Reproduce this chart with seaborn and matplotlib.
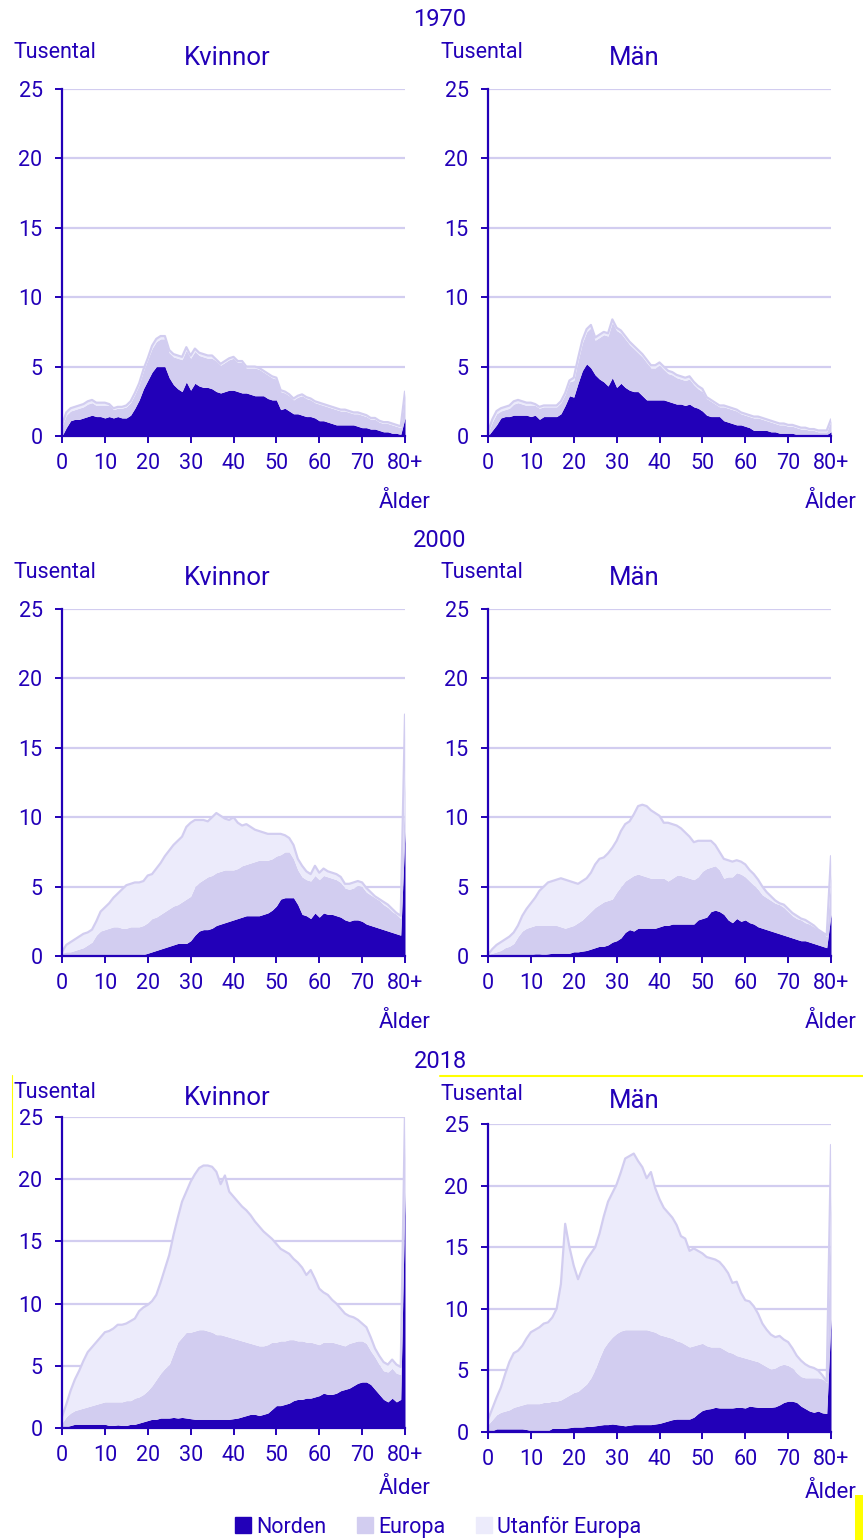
import matplotlib
matplotlib.use("Agg")
import matplotlib.pyplot as plt
from matplotlib.lines import Line2D
from matplotlib.patches import Rectangle
import seaborn as sns

sns.set_theme(style="white")
plt.rcParams['font.family'] = ['Roboto', 'DejaVu Sans']

BLUE = '#2200b8'
EUR = '#d2cdf0'
UTF = '#ecebfb'
W, H = 863, 1540

ages = list(range(81))
xticks = [0, 10, 20, 30, 40, 50, 60, 70, 80]
xtick_labels = ['0', '10', '20', '30', '40', '50', '60', '70', '80+']
yticks = [0, 5, 10, 15, 20, 25]
years = ['1970', '2000', '2018']
sexes = ['Kvinnor', 'Män']
groups = ['Norden', 'Europa', 'Utanför Europa']

# thousands per one-year age group, 80 = 80+
norden_1970_k = [0, 0.6, 1.1, 1.2, 1.2, 1.3, 1.4, 1.5, 1.4, 1.4,
                 1.3, 1.4, 1.3, 1.4, 1.3, 1.3, 1.5, 2.0, 2.6, 3.4,
                 4.0, 4.6, 5.0, 5.0, 5.0, 4.2, 3.7, 3.4, 3.2, 3.9,
                 3.3, 3.8, 3.6, 3.5, 3.5, 3.4, 3.2, 3.1, 3.2, 3.3,
                 3.3, 3.2, 3.1, 3.1, 3.0, 2.9, 2.9, 2.9, 2.7, 2.6,
                 2.6, 1.9, 2.0, 1.8, 1.6, 1.6, 1.5, 1.4, 1.4, 1.3,
                 1.1, 1.1, 1.0, 0.9, 0.8, 0.8, 0.8, 0.8, 0.8, 0.7,
                 0.6, 0.6, 0.5, 0.5, 0.4, 0.3, 0.3, 0.2, 0.2, 0.1,
                 1.3]
europa_1970_k = [0.7, 0.9, 0.7, 0.7, 0.8, 0.8, 0.9, 0.9, 0.8, 0.8,
                 0.9, 0.8, 0.6, 0.6, 0.7, 0.8, 0.9, 1.0, 1.1, 1.3,
                 1.5, 1.7, 1.8, 2.0, 2.0, 1.8, 2.0, 2.2, 2.3, 2.3,
                 2.3, 2.3, 2.2, 2.2, 2.1, 2.2, 2.2, 2.0, 2.1, 2.2,
                 2.3, 2.1, 2.2, 1.8, 1.9, 2.0, 1.9, 1.7, 1.7, 1.6,
                 1.5, 1.3, 1.1, 1.1, 1.0, 1.2, 1.4, 1.3, 1.2, 1.1,
                 1.2, 1.1, 1.1, 1.1, 1.1, 1.0, 1.0, 0.9, 0.8, 0.9,
                 0.9, 0.8, 0.7, 0.7, 0.6, 0.6, 0.6, 0.6, 0.5, 0.5,
                 1.8]
utanfor_1970_k = [0.1, 0.2, 0.2, 0.2, 0.2, 0.2, 0.2, 0.2, 0.2, 0.2,
                  0.2, 0.1, 0.1, 0.1, 0.1, 0.1, 0.1, 0.1, 0.1, 0.1,
                  0.1, 0.2, 0.2, 0.2, 0.2, 0.2, 0.2, 0.2, 0.2, 0.2,
                  0.2, 0.2, 0.2, 0.2, 0.2, 0.2, 0.1, 0.1, 0.1, 0.1,
                  0.1, 0.1, 0.1, 0.1, 0.1, 0.1, 0.1, 0.1, 0.1, 0.1,
                  0.1, 0.1, 0.1, 0.1, 0.1, 0.1, 0.1, 0.1, 0.1, 0.1,
                  0.1, 0.1, 0.1, 0.1, 0.1, 0.1, 0.1, 0.1, 0.1, 0.1,
                  0.1, 0.1, 0.1, 0.1, 0.1, 0.1, 0.1, 0.1, 0.1, 0.1,
                  0.1]

norden_1970_m = [0, 0.4, 0.8, 1.3, 1.4, 1.4, 1.5, 1.5, 1.5, 1.5,
                 1.4, 1.5, 1.2, 1.4, 1.4, 1.4, 1.4, 1.6, 2.2, 2.9,
                 2.8, 3.8, 4.7, 5.2, 4.9, 4.4, 4.1, 3.9, 3.6, 4.2,
                 3.5, 3.8, 3.5, 3.3, 3.2, 3.2, 2.9, 2.6, 2.6, 2.6,
                 2.6, 2.6, 2.5, 2.4, 2.3, 2.3, 2.2, 2.3, 2.1, 2.0,
                 1.8, 1.5, 1.4, 1.4, 1.4, 1.1, 1.0, 0.9, 0.8, 0.8,
                 0.7, 0.6, 0.4, 0.4, 0.4, 0.4, 0.3, 0.3, 0.2, 0.2,
                 0.2, 0.2, 0.1, 0.1, 0.1, 0.1, 0.1, 0.1, 0.1, 0.1,
                 0.3]
europa_1970_m = [0.2, 0.6, 0.8, 0.5, 0.5, 0.6, 0.8, 0.9, 0.8, 0.7,
                 0.8, 0.7, 0.8, 0.7, 0.7, 0.7, 0.7, 0.8, 0.8, 1.0,
                 1.2, 1.6, 2.0, 2.3, 2.9, 2.5, 3.0, 3.4, 3.6, 4.0,
                 4.1, 3.6, 3.5, 3.3, 3.1, 2.8, 2.8, 2.7, 2.3, 2.3,
                 2.5, 2.2, 2.0, 2.0, 1.9, 1.8, 1.8, 1.8, 1.6, 1.4,
                 1.4, 1.2, 1.1, 0.9, 0.7, 1.0, 1.0, 1.0, 1.0, 0.8,
                 0.8, 0.8, 0.9, 0.9, 0.8, 0.7, 0.7, 0.6, 0.6, 0.6,
                 0.5, 0.5, 0.5, 0.4, 0.4, 0.3, 0.3, 0.2, 0.2, 0.2,
                 0.8]
utanfor_1970_m = [0.1, 0.2, 0.2, 0.2, 0.2, 0.2, 0.2, 0.2, 0.2, 0.2,
                  0.2, 0.1, 0.1, 0.1, 0.1, 0.1, 0.1, 0.1, 0.1, 0.1,
                  0.2, 0.2, 0.2, 0.2, 0.2, 0.2, 0.2, 0.2, 0.2, 0.2,
                  0.2, 0.2, 0.2, 0.2, 0.2, 0.2, 0.2, 0.2, 0.2, 0.2,
                  0.2, 0.2, 0.2, 0.2, 0.2, 0.2, 0.2, 0.2, 0.2, 0.2,
                  0.2, 0.1, 0.1, 0.1, 0.1, 0.1, 0.1, 0.1, 0.1, 0.1,
                  0.1, 0.1, 0.1, 0.1, 0.1, 0.1, 0.1, 0.1, 0.1, 0.1,
                  0.1, 0.1, 0.1, 0.1, 0.1, 0.1, 0.1, 0.1, 0.1, 0.1,
                  0.1]

norden_2000_k = [0, 0, 0, 0, 0, 0, 0, 0, 0, 0,
                 0, 0.1, 0.05, 0, 0.05, 0.1, 0.05, 0, 0, 0.1,
                 0.2, 0.3, 0.4, 0.5, 0.6, 0.7, 0.8, 0.9, 0.9, 0.9,
                 1.1, 1.5, 1.8, 1.9, 1.9, 2.0, 2.2, 2.3, 2.4, 2.5,
                 2.6, 2.7, 2.8, 2.9, 2.9, 2.9, 2.9, 3.0, 3.1, 3.3,
                 3.6, 4.1, 4.2, 4.2, 4.2, 3.7, 3.0, 2.9, 2.7, 3.1,
                 2.8, 3.1, 3.0, 3.0, 2.9, 2.8, 2.6, 2.5, 2.6, 2.6,
                 2.5, 2.3, 2.2, 2.1, 2.0, 1.9, 1.8, 1.7, 1.6, 1.5,
                 9.0]
europa_2000_k = [0.2, 0.3, 0.3, 0.4, 0.5, 0.6, 0.8, 1.0, 1.5, 1.8,
                 1.9, 1.9, 2.05, 2.1, 1.95, 1.9, 2.05, 2.1, 2.1, 2.1,
                 2.2, 2.4, 2.4, 2.5, 2.6, 2.7, 2.8, 2.8, 3.0, 3.2,
                 3.2, 3.5, 3.5, 3.6, 3.8, 3.8, 3.8, 3.8, 3.8, 3.7,
                 3.6, 3.6, 3.7, 3.7, 3.8, 3.9, 4.0, 3.9, 3.8, 3.7,
                 3.6, 3.2, 3.3, 3.3, 2.8, 2.5, 2.7, 2.6, 2.7, 2.7,
                 2.7, 2.7, 2.7, 2.6, 2.6, 2.5, 2.3, 2.3, 2.3, 2.5,
                 2.5, 2.3, 2.2, 2.1, 2.0, 1.8, 1.7, 1.5, 1.4, 1.2,
                 4.0]
utanfor_2000_k = [0.1, 0.5, 0.7, 0.8, 0.9, 1.0, 0.9, 0.9, 1.0, 1.4,
                  1.6, 1.8, 2.1, 2.4, 2.8, 3.1, 3.1, 3.2, 3.2, 3.2,
                  3.4, 3.2, 3.5, 3.7, 4.0, 4.2, 4.4, 4.6, 4.7, 5.2,
                  5.3, 4.8, 4.5, 4.3, 4.0, 4.2, 4.3, 4.0, 3.7, 3.6,
                  3.8, 3.3, 2.9, 2.9, 2.6, 2.3, 2.1, 2.0, 1.9, 1.8,
                  1.6, 1.5, 1.2, 1.0, 1.0, 0.8, 0.8, 0.6, 0.5, 0.7,
                  0.5, 0.5, 0.4, 0.4, 0.4, 0.4, 0.3, 0.4, 0.4, 0.3,
                  0.3, 0.3, 0.2, 0.1, 0.1, 0.2, 0.2, 0.2, 0.1, 0.2,
                  4.4]

norden_2000_m = [0, 0, 0, 0, 0, 0, 0, 0, 0, 0,
                 0.1, 0.15, 0.15, 0.1, 0.15, 0.2, 0.2, 0.2, 0.2, 0.2,
                 0.3, 0.3, 0.35, 0.4, 0.5, 0.6, 0.7, 0.7, 0.8, 1.0,
                 1.1, 1.3, 1.7, 1.9, 1.8, 2.0, 2.0, 2.0, 2.0, 2.0,
                 2.1, 2.2, 2.2, 2.3, 2.3, 2.3, 2.3, 2.3, 2.3, 2.6,
                 2.7, 2.8, 3.2, 3.3, 3.2, 3.0, 2.6, 2.4, 2.7, 2.5,
                 2.6, 2.4, 2.3, 2.1, 2.0, 1.9, 1.8, 1.7, 1.6, 1.5,
                 1.4, 1.3, 1.2, 1.1, 1.1, 1.0, 0.9, 0.8, 0.7, 0.6,
                 3.0]
europa_2000_m = [0.1, 0.2, 0.3, 0.4, 0.6, 0.7, 0.9, 1.4, 1.8, 2.0,
                 2.0, 2.05, 2.05, 2.1, 2.05, 2.0, 2.0, 1.9, 1.8, 1.9,
                 1.9, 2.1, 2.25, 2.5, 2.7, 2.9, 3.0, 3.2, 3.2, 3.1,
                 3.5, 3.7, 3.7, 3.7, 4.0, 3.9, 3.8, 3.7, 3.6, 3.6,
                 3.5, 3.4, 3.2, 3.3, 3.5, 3.5, 3.4, 3.3, 3.2, 3.1,
                 3.4, 3.5, 3.2, 3.2, 3.0, 2.6, 3.1, 3.3, 3.3, 3.4,
                 3.1, 3.0, 2.8, 2.7, 2.4, 2.3, 2.2, 2.1, 2.1, 2.0,
                 1.8, 1.6, 1.5, 1.5, 1.3, 1.3, 1.2, 1.1, 1.0, 0.8,
                 3.0]
utanfor_2000_m = [0.0, 0.3, 0.5, 0.6, 0.6, 0.7, 0.8, 0.8, 1.1, 1.4,
                  1.7, 2.0, 2.5, 2.8, 3.1, 3.2, 3.3, 3.5, 3.5, 3.3,
                  3.1, 2.8, 2.8, 2.7, 2.8, 3.1, 3.3, 3.2, 3.4, 3.7,
                  3.7, 4.0, 4.1, 4.1, 4.4, 4.9, 5.1, 5.1, 4.9, 4.7,
                  4.5, 4.0, 4.2, 3.9, 3.6, 3.4, 3.2, 3.0, 2.7, 2.6,
                  2.2, 2.0, 1.9, 1.5, 1.3, 1.4, 1.2, 1.1, 0.9, 0.9,
                  0.9, 0.8, 0.8, 0.7, 0.6, 0.4, 0.3, 0.2, 0.1, 0.2,
                  0.2, 0.2, 0.2, 0.1, 0.2, 0.1, 0.1, 0.0, 0.0, 0.1,
                  1.2]

norden_2018_k = [0.0, 0.1, 0.2, 0.3, 0.3, 0.3, 0.3, 0.3, 0.3, 0.3,
                 0.3, 0.2, 0.2, 0.25, 0.2, 0.2, 0.3, 0.3, 0.4, 0.5,
                 0.6, 0.7, 0.7, 0.8, 0.8, 0.8, 0.85, 0.8, 0.85, 0.8,
                 0.75, 0.7, 0.7, 0.7, 0.7, 0.7, 0.7, 0.7, 0.7, 0.7,
                 0.75, 0.8, 0.9, 1.0, 1.1, 1.1, 1.0, 1.1, 1.2, 1.5,
                 1.8, 1.8, 1.9, 2.0, 2.2, 2.3, 2.3, 2.4, 2.4, 2.5,
                 2.6, 2.8, 2.7, 2.7, 2.8, 3.0, 3.1, 3.2, 3.4, 3.6,
                 3.7, 3.7, 3.5, 3.1, 2.7, 2.3, 2.1, 2.4, 2.1, 2.3,
                 19.0]
europa_2018_k = [0.4, 0.8, 1.0, 1.1, 1.2, 1.3, 1.4, 1.5, 1.6, 1.7,
                 1.8, 1.9, 1.9, 1.85, 1.9, 2.0, 1.9, 2.1, 2.1, 2.2,
                 2.4, 2.7, 3.2, 3.6, 4.0, 4.3, 5.15, 6.1, 6.45, 6.9,
                 6.95, 7.1, 7.2, 7.2, 7.1, 7.0, 6.8, 6.8, 6.7, 6.6,
                 6.45, 6.3, 6.1, 5.9, 5.7, 5.6, 5.6, 5.5, 5.5, 5.4,
                 5.1, 5.2, 5.1, 5.1, 4.9, 4.7, 4.7, 4.5, 4.5, 4.3,
                 4.1, 4.1, 4.2, 4.2, 4.0, 3.7, 3.5, 3.6, 3.5, 3.4,
                 3.3, 3.1, 2.7, 2.6, 2.4, 2.3, 2.4, 2.4, 2.3, 2.0,
                 5.0]
utanfor_2018_k = [0.5, 1.0, 1.8, 2.5, 3.1, 3.8, 4.4, 4.7, 5.0, 5.3,
                  5.6, 5.7, 5.9, 6.2, 6.2, 6.2, 6.4, 6.4, 6.9, 7.0,
                  6.9, 6.8, 6.8, 7.3, 8.0, 8.8, 9.5, 10.0, 10.9, 11.3,
                  12.1, 12.6, 13.0, 13.2, 13.3, 13.3, 13.1, 12.1, 12.9, 11.7,
                  11.4, 11.1, 10.8, 10.6, 10.3, 9.9, 9.6, 9.2, 8.8, 8.3,
                  7.9, 7.4, 7.2, 6.9, 6.5, 6.3, 5.9, 5.4, 5.8, 5.2,
                  4.5, 4.0, 3.8, 3.4, 3.2, 2.9, 2.6, 2.2, 2.0, 1.7,
                  1.4, 1.3, 1.1, 0.7, 0.7, 0.7, 0.6, 0.7, 0.7, 0.6,
                  1.5]

norden_2018_m = [0.0, 0.1, 0.25, 0.25, 0.25, 0.25, 0.25, 0.25, 0.25, 0.2,
                 0.1, 0.1, 0.1, 0.1, 0.1, 0.3, 0.3, 0.3, 0.3, 0.35,
                 0.4, 0.4, 0.4, 0.45, 0.45, 0.5, 0.55, 0.6, 0.6, 0.65,
                 0.6, 0.55, 0.5, 0.55, 0.6, 0.6, 0.6, 0.6, 0.6, 0.65,
                 0.7, 0.8, 0.9, 1.0, 1.05, 1.05, 1.05, 1.05, 1.2, 1.5,
                 1.75, 1.85, 1.9, 2.0, 1.95, 1.95, 1.95, 1.95, 2.0, 2.0,
                 1.95, 2.1, 2.05, 2.0, 2.0, 2.0, 2.0, 2.05, 2.2, 2.4,
                 2.5, 2.5, 2.4, 2.1, 1.9, 1.7, 1.6, 1.7, 1.55, 1.5,
                 9.2]
europa_2018_m = [0.6, 0.9, 1.15, 1.35, 1.45, 1.55, 1.75, 1.85, 1.95, 2.1,
                 2.2, 2.2, 2.2, 2.3, 2.3, 2.2, 2.2, 2.3, 2.5, 2.65,
                 2.8, 2.9, 3.2, 3.45, 3.95, 4.6, 5.45, 6.2, 6.7, 7.05,
                 7.4, 7.65, 7.8, 7.75, 7.7, 7.7, 7.7, 7.7, 7.6, 7.45,
                 7.2, 7.0, 6.8, 6.6, 6.35, 6.25, 6.05, 5.85, 5.8, 5.6,
                 5.45, 5.15, 5.0, 4.9, 4.95, 4.75, 4.55, 4.45, 4.2, 4.1,
                 4.05, 3.8, 3.75, 3.7, 3.5, 3.3, 3.1, 3.15, 3.2, 3.1,
                 2.9, 2.7, 2.4, 2.4, 2.5, 2.7, 2.8, 2.7, 2.75, 2.5,
                 10.4]
utanfor_2018_m = [0.4, 0.9, 1.4, 2.0, 3.0, 3.9, 4.4, 4.5, 4.8, 5.3,
                  5.8, 6.0, 6.2, 6.4, 6.5, 6.8, 7.5, 9.4, 14.1, 12.0,
                  10.3, 9.1, 9.7, 10.1, 10.1, 9.9, 10.1, 10.7, 11.4, 11.7,
                  12.1, 12.9, 13.9, 14.1, 14.3, 13.7, 13.2, 12.3, 12.9, 11.7,
                  11.0, 10.4, 10.1, 9.8, 9.4, 8.6, 8.6, 7.8, 7.9, 7.6,
                  7.3, 7.2, 7.2, 7.1, 6.9, 6.7, 6.4, 5.7, 6.0, 5.2,
                  4.7, 4.7, 4.4, 3.9, 3.3, 3.0, 2.8, 2.5, 2.4, 2.0,
                  1.9, 1.6, 1.4, 1.3, 1.1, 0.9, 0.8, 0.6, 0.3, 0.1,
                  3.7]

panels = {
    ('1970', 'Kvinnor'): (norden_1970_k, europa_1970_k, utanfor_1970_k),
    ('1970', 'Män'): (norden_1970_m, europa_1970_m, utanfor_1970_m),
    ('2000', 'Kvinnor'): (norden_2000_k, europa_2000_k, utanfor_2000_k),
    ('2000', 'Män'): (norden_2000_m, europa_2000_m, utanfor_2000_m),
    ('2018', 'Kvinnor'): (norden_2018_k, europa_2018_k, utanfor_2018_k),
    ('2018', 'Män'): (norden_2018_m, europa_2018_m, utanfor_2018_m),
}

# pixel layout: axes (left, top, bottom), then y of "Tusental", panel title, "Ålder"
boxes = {
    ('1970', 'Kvinnor'): (62, 89, 436, 52, 58, 502),
    ('1970', 'Män'): (488, 89, 436, 52, 58, 502),
    ('2000', 'Kvinnor'): (62, 609, 956, 572, 578, 1022),
    ('2000', 'Män'): (488, 609, 956, 572, 578, 1022),
    ('2018', 'Kvinnor'): (62, 1117, 1428, 1092, 1098, 1488),
    ('2018', 'Män'): (488, 1124, 1432, 1094, 1101, 1492),
}
year_y = {'1970': 20, '2000': 541, '2018': 1062}

fig = plt.figure(figsize=(W / 100, H / 100), dpi=100)

def ftext(x, y, s, **kw):
    fig.text(x / W, 1 - y / H, s, color=BLUE, **kw)

for (yr, sex), (nor, eur, utf) in panels.items():
    x0, top, bot, y_tus, y_title, y_alder = boxes[(yr, sex)]
    ax = fig.add_axes([x0 / W, 1 - bot / H, 343 / W, (bot - top) / H])
    ax.stackplot(ages, nor, eur, utf, colors=[BLUE, EUR, UTF], linewidth=0)
    total = [a + b + c for a, b, c in zip(nor, eur, utf)]
    sns.lineplot(x=ages, y=total, color=EUR, lw=1.6, ax=ax)
    ax.set_xlim(0, 80)
    ax.set_ylim(0, 25)
    ax.set_xticks(xticks)
    ax.set_xticklabels(xtick_labels)
    ax.set_yticks(yticks)
    ax.set_axisbelow(True)
    ax.yaxis.grid(True, color=EUR, lw=1.6)
    ax.xaxis.grid(False)
    for s in ['top', 'right']:
        ax.spines[s].set_visible(False)
    for s in ['left', 'bottom']:
        ax.spines[s].set_color(BLUE)
        ax.spines[s].set_linewidth(1.6)
    ax.tick_params(axis='both', colors=BLUE, labelsize=15.5, length=5, width=1.4,
                   direction='out', left=True, bottom=True)
    ax.tick_params(axis='x', pad=7)
    ax.tick_params(axis='y', pad=9)
    ax.set_xlabel('')
    ax.set_ylabel('')

    x_tus = 14 if sex == 'Kvinnor' else 440
    x_title = 227 if sex == 'Kvinnor' else 634
    ftext(x_tus, y_tus, 'Tusental', ha='left', va='center', fontsize=15.5)
    ftext(x_title, y_title, sex, ha='center', va='center', fontsize=18.5)
    ftext(x0 + 343, y_alder, 'Ålder', ha='center', va='center', fontsize=16)

for yr in years:
    ftext(440, year_y[yr], yr, ha='center', va='center', fontsize=17)

handles = [Line2D([], [], ls='', marker='s', markersize=11, color=c) for c in [BLUE, EUR, UTF]]
fig.legend(handles, groups, ncol=3, loc='center', bbox_to_anchor=(437 / W, 1 - 1527 / H),
           frameon=False, fontsize=15.5, labelcolor=BLUE, handletextpad=0.1,
           columnspacing=1.3, handlelength=1.0, borderaxespad=0)

# yellow marks present in the reference
fig.add_artist(Line2D([440 / W, 1], [1 - 1076 / H] * 2, color='#ffff00', lw=1.5))
fig.add_artist(Line2D([12 / W] * 2, [1 - 1075 / H, 1 - 1157 / H], color='#ffff00', lw=0.8))
fig.add_artist(Rectangle((855 / W, 0), 8 / W, 45 / H, color='#ffff00', lw=0))

fig.savefig('out.png', dpi=100)
